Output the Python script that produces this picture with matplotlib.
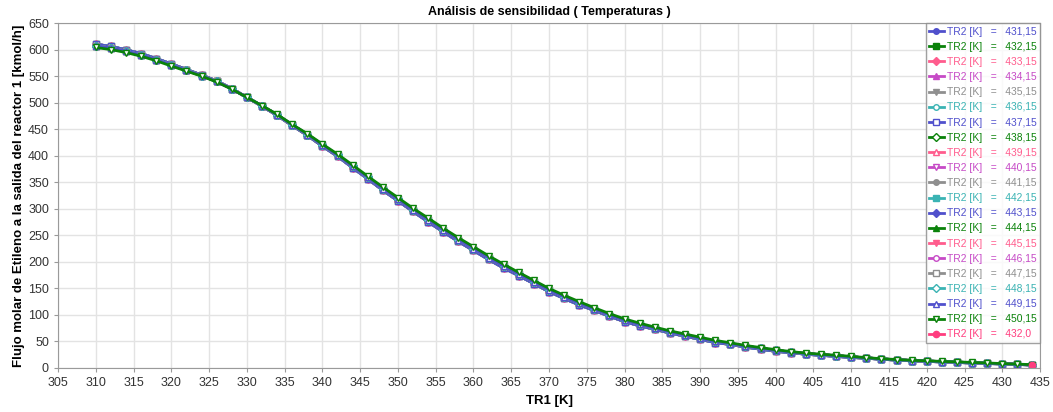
import numpy as np
import matplotlib
matplotlib.use("Agg")
import matplotlib.pyplot as plt

plt.rcParams['font.family'] = ['Liberation Sans', 'DejaVu Sans']

# TR1 [K] grid used by the sensitivity run
tr1 = list(range(310, 435, 2))

# Flujo molar de etileno [kmol/h] (three visually distinct curves of the band)
flujo_bajo = [610, 606, 599.5, 592.5, 583, 573, 562.5, 552, 541, 526.5,
              510, 493.5, 476, 457, 438.5, 418, 399, 377.5, 356.5, 335,
              315, 295, 275.5, 256.5, 238.5, 221.5, 204.5, 188.5, 174, 159,
              144, 131, 119, 108.5, 97.5, 87.5, 79.5, 73, 66, 60,
              54, 48, 44.5, 39.5, 35.5, 31.5, 29, 26, 24, 22,
              20, 18.5, 16.5, 15, 13.5, 12.5, 11.5, 10.5, 9.5, 8.5,
              7.7, 6.7, 5.7]
flujo_medio = [607, 603, 597, 590, 581, 571, 561, 551, 540, 526,
               510, 494, 477, 458, 440, 420, 401, 380, 359, 338,
               318, 298, 279, 260, 242, 225, 208, 192, 177, 162,
               147, 134, 122, 111, 100, 90, 82, 75, 68, 62,
               56, 50, 46, 41, 37, 33, 30, 27, 25, 23,
               21, 19, 17, 15.5, 14, 13, 12, 11, 10, 9,
               8, 7, 6]
flujo_alto = [604, 600, 594.5, 587.5, 579, 569, 559.5, 550, 539, 525.5,
              510, 494.5, 478, 459, 441.5, 422, 403, 382.5, 361.5, 341,
              321, 301, 282.5, 263.5, 245.5, 228.5, 211.5, 195.5, 180, 165,
              150, 137, 125, 113.5, 102.5, 92.5, 84.5, 77, 70, 64,
              58, 52, 47.5, 42.5, 38.5, 34.5, 31, 28, 26, 24,
              22, 19.5, 17.5, 16, 14.5, 13.5, 12.5, 11.5, 10.5, 9.5,
              8.3, 7.3, 6.3]

# TR2 labels and which curve each one follows
tr2_labels = ['431,15', '432,15', '433,15', '434,15', '435,15', '436,15', '437,15',
              '438,15', '439,15', '440,15', '441,15', '442,15', '443,15', '444,15',
              '445,15', '446,15', '447,15', '448,15', '449,15', '450,15']
tr2_curva = ['bajo'] * 7 + ['medio'] * 12 + ['alto']

# extra single-point run
tr1_extra = [434]
flujo_extra = [5.5]

curvas = {'bajo': flujo_bajo, 'medio': flujo_medio, 'alto': flujo_alto}

colores = ['#5050cc', '#0a820a', '#ff5c8d', '#c64ac6', '#8f8f8f', '#3ab3b3']
marcadores = [('o', True), ('s', True), ('D', True), ('^', True), ('v', True),
              ('o', False), ('s', False), ('D', False), ('^', False), ('v', False)]

fig = plt.figure(figsize=(10.53, 4.12), dpi=100)
ax = fig.add_axes([0.0551, 0.1068, 0.9326, 0.8372])

for i, lab in enumerate(tr2_labels):
    c = colores[i % 6]
    m, lleno = marcadores[i % 10]
    ax.plot(tr1, curvas[tr2_curva[i]], color=c, lw=2.0, marker=m, ms=4,
            markerfacecolor=c if lleno else 'white', markeredgecolor=c,
            markeredgewidth=1.0, label=f"TR2 [K]   =   {lab}")
ax.plot(tr1_extra, flujo_extra, color='#ff3d7f', lw=2.0, marker='o', ms=4.5,
        label="TR2 [K]   =   432,0")

ax.set_xlim(305, 435)
ax.set_ylim(0, 650)
ax.set_xticks(np.arange(305, 436, 5))
ax.set_yticks(np.arange(0, 651, 50))
ax.grid(True, color='#e3e3e3', lw=1.0)
ax.set_axisbelow(True)
for s in ax.spines.values():
    s.set_color('#9a9a9a')
ax.tick_params(labelsize=9, colors='#333333', length=3, color='#9a9a9a')

ax.set_title("Análisis de sensibilidad ( Temperaturas )", fontsize=9, fontweight='bold', pad=6)
ax.set_xlabel("TR1 [K]", fontsize=9.5, fontweight='bold', labelpad=4)
ax.set_ylabel("Flujo molar de Etileno a la salida del reactor 1 [kmol/h]",
              fontsize=9.5, fontweight='bold', labelpad=2)

leg = ax.legend(loc='upper right', fontsize=7.4, frameon=True, fancybox=False,
                edgecolor='#8a8a8a', handlelength=1.4, handletextpad=0.3,
                labelspacing=0.5, borderpad=0.35, borderaxespad=0.0)
leg.get_frame().set_linewidth(1.0)
for txt, h in zip(leg.get_texts(), leg.legend_handles):
    txt.set_color(h.get_color())

fig.savefig("out.png", dpi=100)
